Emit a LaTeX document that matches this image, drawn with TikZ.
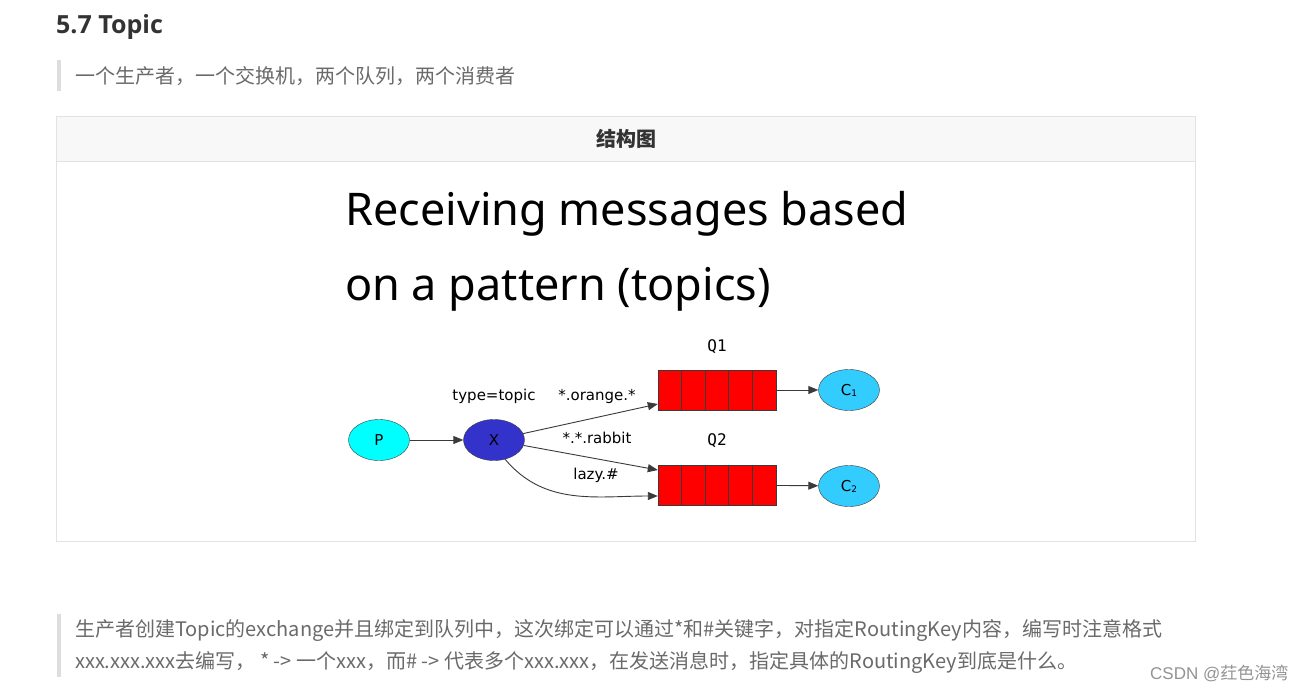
\documentclass[tikz,border=0pt]{standalone}
\usepackage{fontspec}
\setmainfont{Open Sans}
\newfontfamily\cjk{Noto Sans CJK SC}
\newfontfamily\titlefont{Noto Sans}
\newfontfamily\dejavu{DejaVu Sans}
\newfontfamily\dejavumono{DejaVu Sans Mono}
\newfontfamily\liber{Liberation Sans}
\usetikzlibrary{calc,arrows.meta,shapes.geometric}
\definecolor{headink}{HTML}{333333}
\definecolor{quoteink}{HTML}{6A6A6A}
\definecolor{quotebar}{HTML}{DDDDDD}
\definecolor{tableline}{HTML}{E2E2E2}
\definecolor{tablehead}{HTML}{F8F8F8}
\definecolor{pcyan}{HTML}{00FFFF}
\definecolor{xblue}{HTML}{3333CC}
\definecolor{cblue}{HTML}{33CCFF}
\definecolor{outline}{HTML}{3A3A3A}
\tikzset{
  msgnode/.style={ellipse, draw=outline, minimum width=61pt, minimum height=41pt, inner sep=0pt, font=\dejavu\fontsize{15}{15}\selectfont},
  queuebox/.style={draw=outline, fill=red, minimum width=118pt, minimum height=40pt, inner sep=0pt},
  cellline/.style={draw=outline, line width=0.8pt},
  link/.style={draw=outline, line width=0.9pt, -{Triangle[length=10pt,width=8pt]}},
  keylabel/.style={font=\dejavu\fontsize{15}{15}\selectfont, inner sep=0pt},
  quotetext/.style={anchor=west, text=quoteink, font=\cjk\fontsize{20}{20}\selectfont, inner sep=0pt},
}
\begin{document}
\begin{tikzpicture}[x=1pt,y=-1pt]
\useasboundingbox[fill=white] (0,0) rectangle (1302,691);
\node[anchor=base west, inner sep=0pt, text=headink, font=\bfseries\fontsize{25}{25}\selectfont] (heading) at (56,33) {5.7 Topic};
\fill[quotebar] (57,60) rectangle (61,91);
\node[quotetext] (intro) at (75,76) {一个生产者，一个交换机，两个队列，两个消费者};
\filldraw[fill=white, draw=tableline] (56.5,116.5) rectangle (1195.5,541.5);
\filldraw[fill=tablehead, draw=tableline] (56.5,116.5) rectangle (1195.5,161.5);
\node[text=headink, font=\cjk\bfseries\fontsize{20}{20}\selectfont] (tabhead) at (626,139) {结构图};
\node[anchor=base west, inner sep=0pt, font=\titlefont\fontsize{45}{45}\selectfont] (title1) at (345,225) {Receiving messages based};
\node[anchor=base west, inner sep=0pt, font=\titlefont\fontsize{45}{45}\selectfont] (title2) at (345,300) {on a pattern (topics)};
\node[msgnode, fill=pcyan] (p) at (379,440) {P};
\node[msgnode, fill=xblue] (x) at (494,440) {X};
\node[queuebox] (q1) at (717,390) {};
\node[queuebox] (q2) at (717,485) {};
\foreach \q in {q1,q2}
  \foreach \i in {1,...,4}
    \draw[cellline] ($(\q.north west)!\i/5!(\q.north east)$) -- ($(\q.south west)!\i/5!(\q.south east)$);
\node[msgnode, fill=cblue] (c1) at (849,390) {C\raisebox{-1pt}{\fontsize{9}{9}\selectfont 1}};
\node[msgnode, fill=cblue] (c2) at (849,486) {C\raisebox{-1pt}{\fontsize{9}{9}\selectfont 2}};
\node[keylabel, font=\dejavumono\fontsize{16}{16}\selectfont] (q1name) at (717,347) {Q1};
\node[keylabel, font=\dejavumono\fontsize{16}{16}\selectfont] (q2name) at (717,441) {Q2};
\node[keylabel] (typelbl) at (494,396) {type=topic};
\node[keylabel] (orangelbl) at (597,396) {*.orange.*};
\node[keylabel] (rabbitlbl) at (597,438) {*.*.rabbit};
\node[keylabel] (lazylbl) at (596,475) {lazy.\#};
\draw[link] (p) -- (x);
\draw[link] (x) -- ([yshift=-14pt]q1.west);
\draw[link] (x) -- ([yshift=15pt]q2.west);
\draw[link] (x.300) to[out=-50, in=180] ([yshift=-11pt]q2.west);
\draw[link] (q1) -- (c1);
\draw[link] (q2) -- (c2);
\fill[quotebar] (57,614) rectangle (61,677);
\node[quotetext] (note1) at (75,631) {生产者创建Topic的exchange并且绑定到队列中，这次绑定可以通过*和\#关键字，对指定RoutingKey内容，编写时注意格式};
\node[quotetext] (note2) at (75,662) {xxx.xxx.xxx去编写， * -> 一个xxx，而\# -> 代表多个xxx.xxx，在发送消息时，指定具体的RoutingKey到底是什么。};
\node[anchor=west, inner sep=0pt, text=gray!85, font=\liber\fontsize{17}{17}\selectfont] (mark) at (1150,673) {CSDN @{\cjk 荭色海湾}};
\end{tikzpicture}
\end{document}
